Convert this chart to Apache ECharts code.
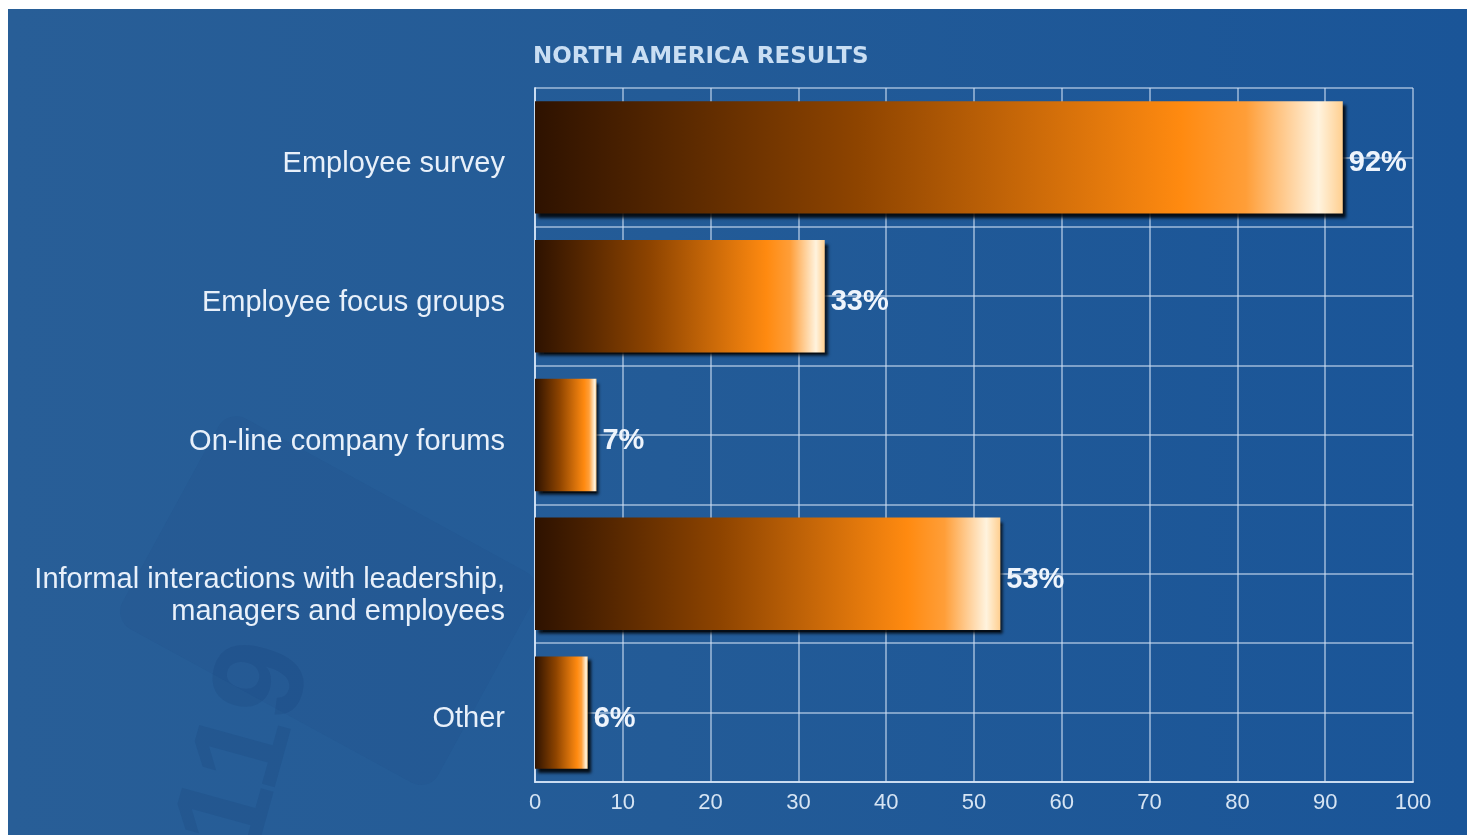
<!DOCTYPE html>
<html>
<head>
<meta charset="utf-8">
<title>North America Results</title>
<script src="https://cdn.jsdelivr.net/npm/echarts@6/dist/echarts.min.js"></script>
<style>
  html, body { margin: 0; padding: 0; background: #ffffff; width: 1467px; height: 838px; overflow: hidden; }
  #chart {
    position: absolute; left: 8px; top: 9px; width: 1459px; height: 826px;
    background: linear-gradient(90deg, #285e97 0%, #235b97 45%, #1a5598 100%);
  }
</style>
</head>
<body>
<div id="chart"></div>
<script>
// Survey answers, top to bottom
const categories = [
  'Employee survey',
  'Employee focus groups',
  'On-line company forums',
  'Informal interactions with leadership,\nmanagers and employees',
  'Other'
];
const percentValues = [92, 33, 7, 53, 6];
const xTicks = [0, 10, 20, 30, 40, 50, 60, 70, 80, 90, 100];
const titleText = 'NORTH AMERICA RESULTS';

// half-category rows used only to draw the horizontal rule lines
const halfRows = categories.flatMap((c, i) => ['a' + i, 'b' + i]);

const chart = echarts.init(document.getElementById('chart'), null, { renderer: 'canvas' });

const gridLine = { color: 'rgba(205,222,242,0.55)', width: 2 };
const labelFont = '"Liberation Sans", Arial, sans-serif';

const barFill = new echarts.graphic.LinearGradient(0, 0, 1, 0, [
  { offset: 0.00, color: '#2e1200' },
  { offset: 0.40, color: '#8e4400' },
  { offset: 0.80, color: '#ff8a10' },
  { offset: 0.88, color: '#ff9e38' },
  { offset: 0.97, color: '#fff3de' },
  { offset: 1.00, color: '#ffcf90' }
]);

// Category label: a blank spacer line pushes the text a little below the row centre;
// two-line labels begin near the centre and run downward.
function categoryLabel(name) {
  const lines = name.split('\n');
  const spacer = lines.length > 1 ? '{gapM| }' : '{gapS| }';
  return spacer + '\n' + lines.map(l => '{txt|' + l + '}').join('\n');
}

chart.setOption({
  backgroundColor: 'transparent',
  animation: false,
  title: {
    text: titleText,
    left: 525,
    top: 37,
    padding: 0,
    textStyle: {
      color: '#c9def3',
      fontFamily: '"DejaVu Sans", sans-serif',
      fontWeight: 'bold',
      fontSize: 23
    }
  },
  grid: { left: 527, right: 54, top: 79, bottom: 53, containLabel: false },
  xAxis: {
    type: 'value',
    min: xTicks[0],
    max: xTicks[xTicks.length - 1],
    interval: 10,
    axisLine: { show: true, lineStyle: { color: 'rgba(215,230,248,0.85)', width: 2 } },
    axisTick: { show: false },
    axisLabel: {
      color: '#d6e4f3',
      fontFamily: labelFont,
      fontSize: 22,
      margin: 10,
      formatter: v => xTicks.includes(v) ? String(v) : ''
    },
    splitLine: { show: true, lineStyle: gridLine }
  },
  yAxis: [
    {
      type: 'category',
      data: categories,
      inverse: true,
      axisLine: { show: true, lineStyle: { color: 'rgba(215,230,248,0.85)', width: 2 } },
      axisTick: { show: false },
      axisLabel: {
        color: '#e8f0fa',
        fontFamily: labelFont,
        fontSize: 29,
        align: 'right',
        margin: 30,
        formatter: categoryLabel,
        rich: {
          gapS: { fontSize: 8, lineHeight: 13, align: 'right' },
          gapM: { fontSize: 8, lineHeight: 45, align: 'right' },
          txt: { color: '#e8f0fa', fontFamily: labelFont, fontSize: 29, lineHeight: 32, align: 'right' }
        }
      },
      splitLine: { show: false }
    },
    {
      type: 'category',
      data: halfRows,
      inverse: true,
      position: 'left',
      axisLine: { show: false },
      axisTick: { show: false },
      axisLabel: { show: false },
      splitLine: { show: true, lineStyle: gridLine }
    }
  ],
  graphic: [
    {
      type: 'text',
      left: 150,
      top: 620,
      rotation: 1.3,
      z: -5,
      style: {
        text: '119',
        fontSize: 130,
        fontWeight: 'bold',
        fontFamily: labelFont,
        fill: 'rgba(12,40,90,0.10)'
      }
    },
    {
      type: 'rect',
      x: 220, y: 400,
      rotation: -0.5,
      z: -5,
      shape: { width: 360, height: 240, r: 20 },
      style: { fill: 'rgba(12,40,90,0.05)' }
    }
  ],
  series: [
    {
      type: 'bar',
      yAxisIndex: 0,
      data: percentValues,
      barCategoryGap: '19%',
      itemStyle: {
        color: barFill,
        shadowColor: 'rgba(0,0,0,0.85)',
        shadowBlur: 3,
        shadowOffsetX: 3,
        shadowOffsetY: 4
      },
      label: {
        show: true,
        position: 'right',
        distance: 6,
        offset: [0, 6],
        formatter: p => p.value + '%',
        color: '#eef4fc',
        fontFamily: labelFont,
        fontWeight: 'bold',
        fontSize: 29
      },
      z: 3
    }
  ]
});
</script>
</body>
</html>
